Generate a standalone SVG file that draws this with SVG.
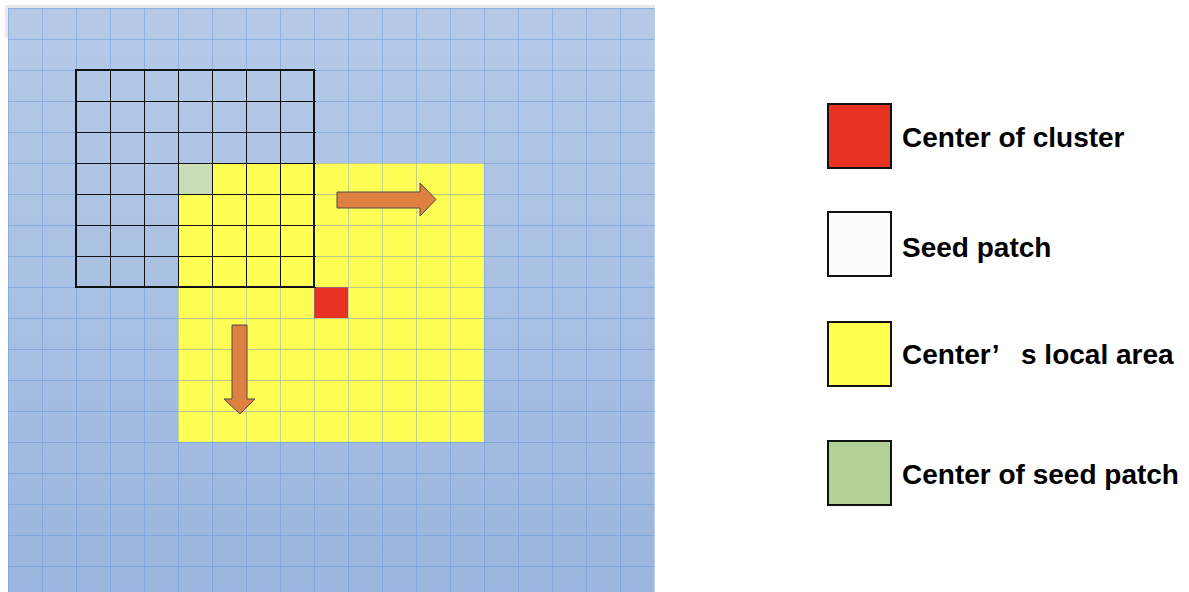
<svg xmlns="http://www.w3.org/2000/svg" width="1189" height="592" viewBox="0 0 1189 592">
<defs>
<linearGradient id="bg" x1="0" y1="0" x2="0" y2="1">
<stop offset="0" stop-color="#b6cae8"/>
<stop offset="1" stop-color="#9ab6de"/>
</linearGradient>
<pattern id="gridp" x="8" y="8" width="34" height="31" patternUnits="userSpaceOnUse">
<path d="M0 0H34M0 0V31" fill="none" stroke="#5a90d8" stroke-opacity="0.6" stroke-width="1.3"/>
</pattern>
<pattern id="blackp" x="76" y="70" width="34" height="31" patternUnits="userSpaceOnUse">
<path d="M0 0H34M0 0V31" fill="none" stroke="#111" stroke-width="2"/>
</pattern>
</defs>
<style>
.lbl{font-family:"Liberation Sans",Arial,sans-serif;font-weight:bold;font-size:28px;fill:#000}
.box{stroke:#111;stroke-width:2}
.arrow{fill:#e08040;stroke:#4a4a4a;stroke-width:1}
</style>
<rect width="1189" height="592" fill="#fff"/>
<g id="panel">
<rect x="5" y="5" width="650" height="3" fill="#e9e9e9"/>
<rect x="5" y="5" width="3" height="33" fill="#e9e9e9"/>
<rect x="8" y="8" width="646" height="584" fill="url(#bg)"/>
</g>
<g id="local-area">
<rect x="178" y="163" width="306" height="279" fill="#ffff55"/>
</g>
<g id="center-seed">
<rect x="178" y="163" width="34" height="31" fill="#c8dcb6"/>
</g>
<g id="center-cluster">
<rect x="314" y="287" width="34" height="31" fill="#e83222"/>
</g>
<g id="grid">
<rect x="8" y="8" width="647" height="585" fill="url(#gridp)"/>
</g>
<g id="seed-patch">
<rect x="75" y="69" width="241" height="219" fill="url(#blackp)"/>
<rect x="76" y="70" width="238" height="217" fill="none" stroke="#111" stroke-width="2"/>
</g>
<g id="connectors">
<polygon class="arrow" points="337,192 420,192 420,183 436,199.5 420,216 420,208 337,208"/>
<polygon class="arrow" points="232,325 247,325 247,399 255,399 240,414 224,399 232,399"/>
</g>
<g id="legend-cluster">
<rect class="box" x="828" y="104" width="63" height="64" fill="#e83323"/>
<text class="lbl" x="902" y="147">Center of cluster</text>
</g>
<g id="legend-seed">
<rect class="box" x="828" y="212" width="63" height="64" fill="#fcfcfc"/>
<text class="lbl" x="902" y="257">Seed patch</text>
</g>
<g id="legend-local">
<rect class="box" x="828" y="322" width="63" height="64" fill="#ffff50"/>
<text class="lbl" x="902" y="364">Center’<tspan x="1021">s local area</tspan></text>
</g>
<g id="legend-center-seed">
<rect class="box" x="828" y="441" width="63" height="64" fill="#b0d095"/>
<text class="lbl" x="902" y="484">Center of seed patch</text>
</g>
</svg>
